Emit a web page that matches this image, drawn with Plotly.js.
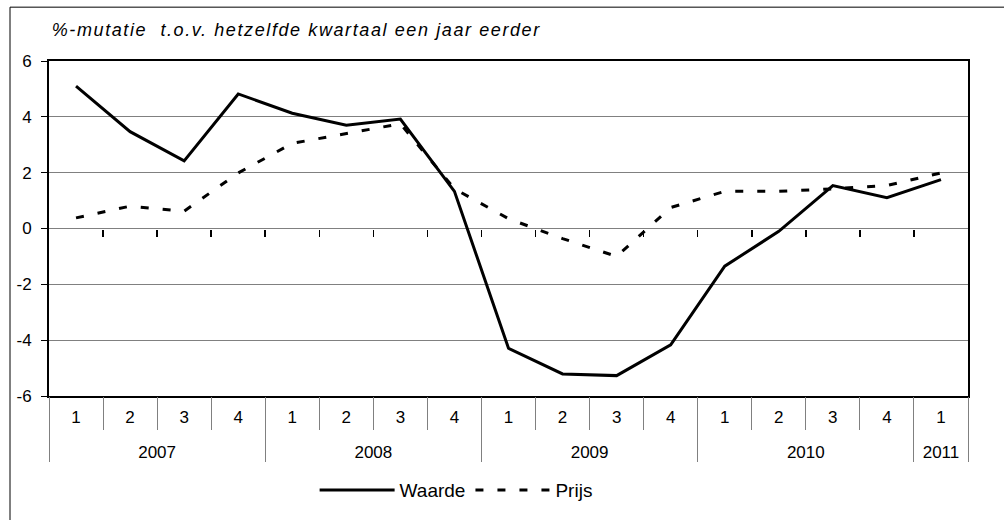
<!DOCTYPE html>
<html>
<head>
<meta charset="utf-8">
<script src="https://cdn.plot.ly/plotly-3.0.1.min.js"></script>
<style>
  html, body { margin: 0; padding: 0; background: #fff; }
  #chart { width: 1004px; height: 520px; }
  #chart .gtitle { letter-spacing: 1.6px; }
</style>
</head>
<body>
<div id="chart"></div>
<script>
// ---- data ----
const years    = ['2007','2007','2007','2007','2008','2008','2008','2008','2009','2009','2009','2009','2010','2010','2010','2010','2011'];
const quarters = ['1','2','3','4','1','2','3','4','1','2','3','4','1','2','3','4','1'];
const waarde   = [5.1, 3.47, 2.42, 4.82, 4.13, 3.7, 3.92, 1.33, -4.29, -5.21, -5.27, -4.17, -1.35, -0.1, 1.54, 1.1, 1.75];
const prijs    = [0.38, 0.8, 0.62, 1.99, 3.05, 3.39, 3.75, 1.42, 0.35, -0.36, -1.0, 0.75, 1.33, 1.33, 1.42, 1.54, 1.99];
const seriesNames = ['Waarde', 'Prijs'];
const titleText = '%-mutatie  t.o.v. hetzelfde kwartaal een jaar eerder';
const yTicks = [-6, -4, -2, 0, 2, 4, 6];

const FONT = 'Liberation Sans, Arial, sans-serif';
const yMin = -6, yMax = 6;
const n = quarters.length;
const idx = quarters.map((_, i) => i);

// category boundaries (between quarters)
const qBounds = [];
for (let i = 0; i < n - 1; i++) qBounds.push(i + 0.5);

// year groups: centres and boundaries derived from the years array
const yearNames = [], yearCenters = [], yearBounds = [-0.5];
let start = 0;
for (let i = 1; i <= n; i++) {
  if (i === n || years[i] !== years[start]) {
    yearNames.push(years[start]);
    yearCenters.push((start + i - 1) / 2);
    yearBounds.push(i - 0.5);
    start = i;
  }
}

const traces = [
  {
    x: idx, y: waarde, name: seriesNames[0],
    type: 'scatter', mode: 'lines',
    line: { color: '#000000', width: 3 }
  },
  {
    x: idx, y: prijs, name: seriesNames[1],
    type: 'scatter', mode: 'lines',
    line: { color: '#000000', width: 3, dash: '8px,14px' }
  }
];
// empty helper traces so that the decorative overlay axes get drawn
['x2', 'x3', 'x4', 'x5'].forEach(ax => traces.push({
  x: [], y: [], xaxis: ax, yaxis: 'y', type: 'scatter', mode: 'lines',
  showlegend: false, hoverinfo: 'skip'
}));

const baseX = { range: [-0.5, n - 0.5], autorange: false, showgrid: false, zeroline: false, fixedrange: true };

const layout = {
  width: 1004, height: 520,
  margin: { l: 49, r: 36, t: 61, b: 123 },
  paper_bgcolor: '#ffffff', plot_bgcolor: '#ffffff',
  font: { family: FONT, size: 17, color: '#000000' },
  showlegend: true,
  title: {
    text: titleText,
    font: { family: FONT, size: 18, style: 'italic', color: '#000000' },
    xref: 'paper', x: 0.003, xanchor: 'left',
    yref: 'container', y: 0.942, yanchor: 'middle'
  },
  // quarter labels + frame
  xaxis: Object.assign({}, baseX, {
    tickmode: 'array', tickvals: idx, ticktext: quarters,
    ticks: '', ticklabelstandoff: 5,
    showline: true, linecolor: '#000000', linewidth: 2, mirror: true,
    tickfont: { family: FONT, size: 17, color: '#000000' }
  }),
  // tick marks on the zero line
  xaxis2: Object.assign({}, baseX, {
    overlaying: 'x', anchor: 'free',
    position: (0 - yMin) / (yMax - yMin),
    tickmode: 'array', tickvals: qBounds,
    ticks: 'outside', ticklen: 7, tickcolor: '#000000', tickwidth: 1.5,
    showticklabels: false, showline: false, side: 'bottom'
  }),
  // short separators between quarters
  xaxis3: Object.assign({}, baseX, {
    overlaying: 'x', anchor: 'y', side: 'bottom',
    tickmode: 'array', tickvals: qBounds,
    ticks: 'outside', ticklen: 33, tickcolor: '#808080', tickwidth: 1,
    showticklabels: false, showline: false
  }),
  // long separators between years
  xaxis4: Object.assign({}, baseX, {
    overlaying: 'x', anchor: 'y', side: 'bottom',
    tickmode: 'array', tickvals: yearBounds,
    ticks: 'outside', ticklen: 65, tickcolor: '#808080', tickwidth: 1,
    showticklabels: false, showline: false
  }),
  // year labels
  xaxis5: Object.assign({}, baseX, {
    overlaying: 'x', anchor: 'y', side: 'bottom',
    tickmode: 'array', tickvals: yearCenters, ticktext: yearNames,
    ticks: '', ticklabelstandoff: 44, showline: false,
    tickfont: { family: FONT, size: 17, color: '#000000' }
  }),
  yaxis: {
    range: [yMin, yMax], fixedrange: true,
    tickmode: 'array', tickvals: yTicks, ticktext: yTicks.map(v => String(v)),
    showgrid: true, gridcolor: '#808080', gridwidth: 1,
    zeroline: false,
    showline: true, linecolor: '#000000', linewidth: 2, mirror: true,
    ticks: 'outside', ticklen: 6, tickcolor: '#000000', tickwidth: 1,
    ticklabelstandoff: 6,
    tickfont: { family: FONT, size: 17, color: '#000000' }
  },
  legend: {
    orientation: 'h',
    x: 0.443, xanchor: 'center',
    y: -0.277, yanchor: 'middle',
    font: { family: FONT, size: 19, color: '#000000' },
    bgcolor: 'rgba(0,0,0,0)',
    itemwidth: 75
  },
  shapes: [
    {
      type: 'rect', xref: 'paper', yref: 'paper',
      x0: -39 / 919, x1: 1.2, y0: -1, y1: 390 / 336,
      line: { color: '#000000', width: 1 }, fillcolor: 'rgba(0,0,0,0)',
      layer: 'below'
    }
  ]
};

Plotly.newPlot('chart', traces, layout, { displayModeBar: false, staticPlot: true });
</script>
</body>
</html>
